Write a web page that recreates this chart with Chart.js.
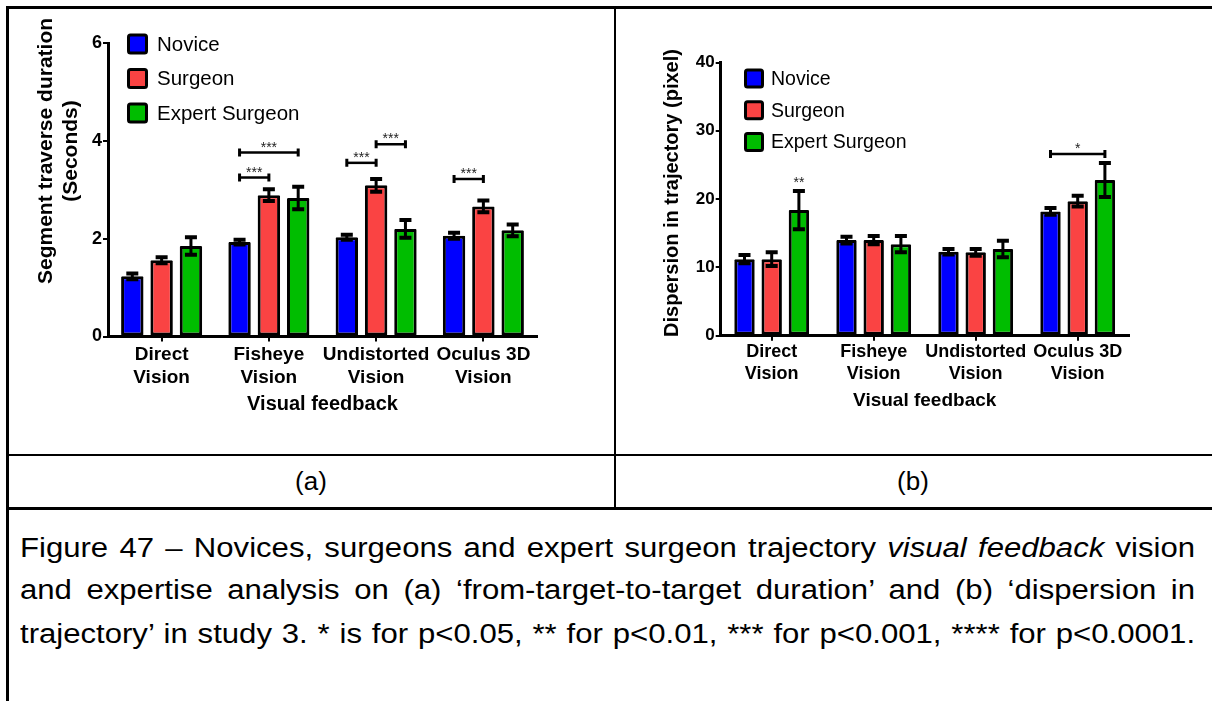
<!DOCTYPE html>
<html>
<head>
<meta charset="utf-8">
<script src="https://cdn.jsdelivr.net/npm/chart.js@4.4.0/dist/chart.umd.min.js"></script>
<style>
  html, body { margin: 0; padding: 0; background: #fff; }
  body { width: 1212px; height: 701px; overflow: hidden; position: relative; font-family: "Liberation Sans", Arial, sans-serif; }
  .rule { position: absolute; background: #000; }
  canvas { position: absolute; }
  .sub { position: absolute; width: 200px; font-size: 26px; line-height: 30px; text-align: center; color: #000; }
  .cap { position: absolute; left: 20px; width: 1020px; font-size: 27px; line-height: 30px; white-space: nowrap;
         text-align: justify; text-align-last: justify; color: #000; transform: scaleX(1.152); transform-origin: 0 0; }
</style>
</head>
<body>
<div class="rule" style="left:6px;top:6px;width:1206px;height:3px"></div>
<div class="rule" style="left:6px;top:6px;width:3px;height:695px"></div>
<div class="rule" style="left:614px;top:6px;width:2px;height:503px"></div>
<div class="rule" style="left:6px;top:454px;width:1206px;height:2px"></div>
<div class="rule" style="left:6px;top:507px;width:1206px;height:3px"></div>

<canvas id="chartA" width="605" height="445" style="left:9px;top:9px"></canvas>
<canvas id="chartB" width="595" height="445" style="left:617px;top:9px"></canvas>

<div class="sub" style="left:211px;top:466px">(a)</div>
<div class="sub" style="left:813px;top:466px">(b)</div>

<div class="cap" style="top:533px">Figure 47 – Novices, surgeons and expert surgeon trajectory <i>visual feedback</i> vision</div>
<div class="cap" style="top:575px">and expertise analysis on (a) ‘from-target-to-target duration’ and (b) ‘dispersion in</div>
<div class="cap" style="top:619px">trajectory’ in study 3. * is for p&lt;0.05, ** for p&lt;0.01, *** for p&lt;0.001, **** for p&lt;0.0001.</div>

<script>
// categories and groups
const categories = [['Direct', 'Vision'], ['Fisheye', 'Vision'], ['Undistorted', 'Vision'], ['Oculus 3D', 'Vision']];
const seriesNames = ['Novice', 'Surgeon', 'Expert Surgeon'];
const seriesColors = ['#0000ff', '#fa4343', '#00bd00'];

// (a) segment traverse duration, seconds
const durNovice = [1.23, 1.93, 2.03, 2.06];
const durNoviceErr = [0.06, 0.05, 0.05, 0.06];
const durSurgeon = [1.56, 2.89, 3.09, 2.66];
const durSurgeonErr = [0.06, 0.12, 0.13, 0.12];
const durExpert = [1.85, 2.83, 2.20, 2.17];
const durExpertErr = [0.18, 0.23, 0.18, 0.12];
const durTicks = [0, 2, 4, 6];
// significance: category, from series, to series, level, stars
const durSig = [
  { cat: 1, from: 0, to: 2, level: 3.76, stars: '***' },
  { cat: 1, from: 0, to: 1, level: 3.25, stars: '***' },
  { cat: 2, from: 0, to: 1, level: 3.55, stars: '***' },
  { cat: 2, from: 1, to: 2, level: 3.93, stars: '***' },
  { cat: 3, from: 0, to: 1, level: 3.22, stars: '***' }
];

// (b) dispersion in trajectory, pixel
const dispNovice = [11.2, 14.0, 12.3, 18.2];
const dispNoviceErr = [0.6, 0.5, 0.4, 0.5];
const dispSurgeon = [11.2, 14.0, 12.2, 19.7];
const dispSurgeonErr = [1.0, 0.6, 0.5, 0.8];
const dispExpert = [18.4, 13.4, 12.7, 22.8];
const dispExpertErr = [2.8, 1.2, 1.2, 2.5];
const dispTicks = [0, 10, 20, 30, 40];
const dispSig = [
  { cat: 0, from: 2, to: 2, level: 21.6, stars: '**' },
  { cat: 3, from: 0, to: 2, level: 26.6, stars: '*' }
];

Chart.defaults.font.family = '"Liberation Sans", Arial, sans-serif';
Chart.defaults.color = '#000';

function errorBarPlugin(errs) {
  return {
    id: 'errorBars',
    afterDatasetsDraw(chart) {
      const ctx = chart.ctx, y = chart.scales.y;
      ctx.save();
      ctx.strokeStyle = '#000';
      chart.data.datasets.forEach((ds, d) => {
        chart.getDatasetMeta(d).data.forEach((bar, i) => {
          const v = ds.data[i], e = errs[d][i];
          const yt = y.getPixelForValue(v + e), yb = y.getPixelForValue(v - e);
          ctx.lineWidth = 3;
          ctx.beginPath();
          ctx.moveTo(bar.x, yb);
          ctx.lineTo(bar.x, yt);
          ctx.stroke();
          ctx.lineWidth = 4;
          ctx.beginPath();
          ctx.moveTo(bar.x - 6, yt); ctx.lineTo(bar.x + 6, yt);
          ctx.moveTo(bar.x - 6, yb); ctx.lineTo(bar.x + 6, yb);
          ctx.stroke();
        });
      });
      ctx.restore();
    }
  };
}

function sigPlugin(marks) {
  return {
    id: 'sigMarks',
    afterDatasetsDraw(chart) {
      const ctx = chart.ctx, y = chart.scales.y;
      ctx.save();
      marks.forEach(m => {
        const x1 = chart.getDatasetMeta(m.from).data[m.cat].x;
        const x2 = chart.getDatasetMeta(m.to).data[m.cat].x;
        const py = y.getPixelForValue(m.level);
        if (m.from !== m.to) {
          ctx.strokeStyle = '#000';
          ctx.lineWidth = 2.5;
          ctx.beginPath();
          ctx.moveTo(x1, py); ctx.lineTo(x2, py);
          ctx.stroke();
          ctx.lineWidth = 3;
          ctx.beginPath();
          ctx.moveTo(x1, py - 4); ctx.lineTo(x1, py + 4);
          ctx.moveTo(x2, py - 4); ctx.lineTo(x2, py + 4);
          ctx.stroke();
        }
        ctx.fillStyle = '#222';
        ctx.font = '14px "Liberation Sans", Arial, sans-serif';
        ctx.textAlign = 'center';
        ctx.textBaseline = 'alphabetic';
        ctx.fillText(m.stars, (x1 + x2) / 2, py - 1);
      });
      ctx.restore();
    }
  };
}

function legendPlugin(box) {
  return {
    id: 'boxLegend',
    afterDraw(chart) {
      const ctx = chart.ctx;
      ctx.save();
      chart.data.datasets.forEach((ds, d) => {
        const cy = box.y0 + d * box.dy;
        ctx.fillStyle = ds.backgroundColor;
        ctx.strokeStyle = '#000';
        ctx.lineWidth = 3;
        ctx.beginPath();
        ctx.roundRect(box.x + 1.5, cy - box.size / 2 + 1.5, box.size - 3, box.size - 3, 2);
        ctx.fill();
        ctx.stroke();
        ctx.fillStyle = '#000';
        ctx.font = box.font;
        ctx.textAlign = 'left';
        ctx.textBaseline = 'middle';
        ctx.fillText(ds.label, box.textX, cy + 1);
      });
      ctx.restore();
    }
  };
}

function yTitlePlugin(lines, xs, yc, font) {
  return {
    id: 'yTitle',
    afterDraw(chart) {
      const ctx = chart.ctx;
      lines.forEach((t, i) => {
        ctx.save();
        ctx.translate(xs[i], yc);
        ctx.rotate(-Math.PI / 2);
        ctx.font = font;
        ctx.fillStyle = '#000';
        ctx.textAlign = 'center';
        ctx.textBaseline = 'middle';
        ctx.fillText(t, 0, 0);
        ctx.restore();
      });
    }
  };
}

function makeChart(id, values, errs, ticks, sig, lay) {
  return new Chart(document.getElementById(id), {
    type: 'bar',
    data: {
      labels: categories,
      datasets: values.map((vals, d) => ({
        label: seriesNames[d],
        data: vals,
        backgroundColor: seriesColors[d],
        borderColor: '#000',
        borderWidth: 3,
        borderSkipped: false,
        borderRadius: 1,
        categoryPercentage: lay.cat,
        barPercentage: lay.bar
      }))
    },
    options: {
      responsive: false,
      animation: false,
      devicePixelRatio: 1,
      layout: { padding: lay.padding },
      plugins: { legend: { display: false }, tooltip: { enabled: false } },
      scales: {
        x: {
          grid: { display: true, drawOnChartArea: false, offset: false, color: '#000', lineWidth: 2, tickLength: 5 },
          border: { display: true, color: '#000', width: 3 },
          ticks: { font: { size: lay.catFont, weight: 'bold' }, color: '#000', padding: lay.catPad, maxRotation: 0, autoSkip: false },
          title: { display: true, text: 'Visual feedback', font: { size: lay.xTitleFont, weight: 'bold' }, color: '#000', padding: 0 },
          afterFit(s) { s.height = lay.xHeight; }
        },
        y: {
          min: ticks[0],
          max: ticks[ticks.length - 1],
          afterBuildTicks(s) { s.ticks = ticks.map(v => ({ value: v })); },
          grid: { display: true, drawOnChartArea: false, color: '#000', lineWidth: 2, tickLength: 5 },
          border: { display: true, color: '#000', width: 3 },
          ticks: { font: { size: lay.tickFont, weight: 'bold' }, color: '#000', padding: 1 },
          afterFit(s) { s.width = lay.yWidth; }
        }
      }
    },
    plugins: [errorBarPlugin(errs), sigPlugin(sig), legendPlugin(lay.legend),
              yTitlePlugin(lay.yTitle, lay.yTitleX, lay.yTitleY, lay.yTitleFont)]
  });
}

makeChart('chartA',
  [durNovice, durSurgeon, durExpert],
  [durNoviceErr, durSurgeonErr, durExpertErr],
  durTicks, durSig,
  {
    cat: 0.82, bar: 0.765,
    padding: { left: 0, right: 77, top: 34, bottom: 38 },
    yWidth: 99, xHeight: 79.5,
    catFont: 19, catPad: 2, xTitleFont: 20, tickFont: 18,
    legend: { x: 118, y0: 35, dy: 34.5, size: 21, textX: 148, font: '20.5px "Liberation Sans", Arial, sans-serif' },
    yTitle: ['Segment traverse duration', '(Seconds)'], yTitleX: [37, 62.5], yTitleY: 142,
    yTitleFont: 'bold 21px "Liberation Sans", Arial, sans-serif'
  });

makeChart('chartB',
  [dispNovice, dispSurgeon, dispExpert],
  [dispNoviceErr, dispSurgeonErr, dispExpertErr],
  dispTicks, dispSig,
  {
    cat: 0.8, bar: 0.75,
    padding: { left: 0, right: 83.3, top: 53.5, bottom: 41.6 },
    yWidth: 103.7, xHeight: 76.7,
    catFont: 18, catPad: 1, xTitleFont: 19, tickFont: 17,
    legend: { x: 127, y0: 69.5, dy: 31.75, size: 20, textX: 154, font: '19.5px "Liberation Sans", Arial, sans-serif' },
    yTitle: ['Dispersion in trajectory (pixel)'], yTitleX: [55.5], yTitleY: 184,
    yTitleFont: 'bold 20px "Liberation Sans", Arial, sans-serif'
  });
</script>
</body>
</html>
